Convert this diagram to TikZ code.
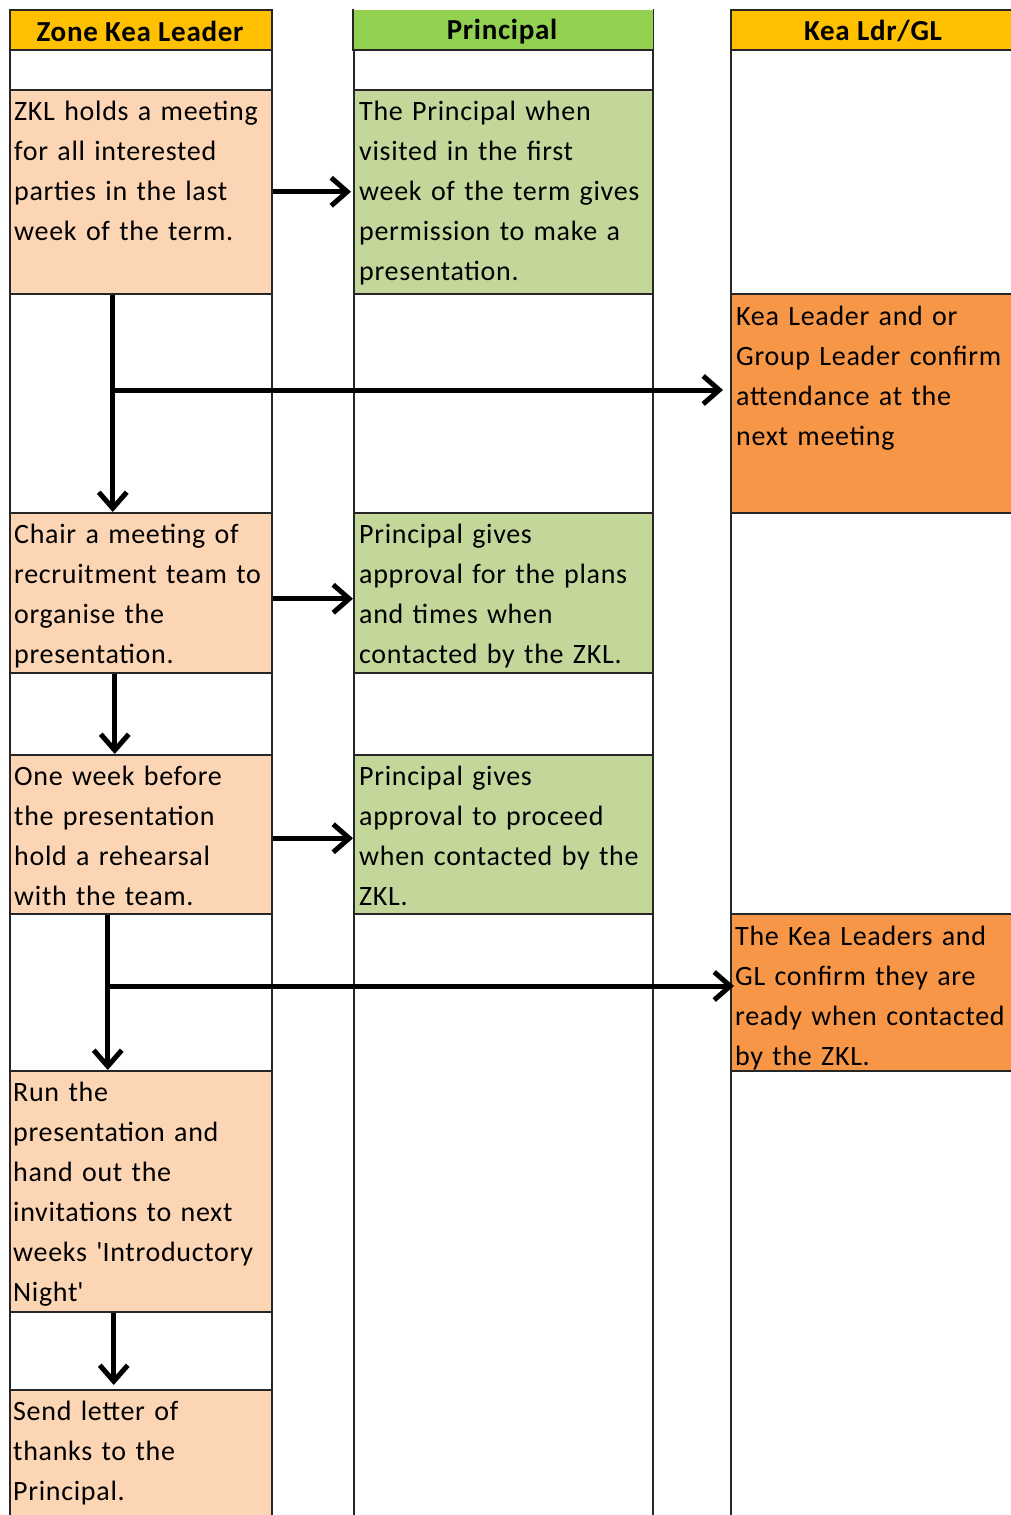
\documentclass[tikz,border=0pt]{standalone}
\usepackage{fontspec}
\setmainfont{Carlito}[LetterSpace=2.5]
\usetikzlibrary{arrows.meta}
\definecolor{hdrorange}{HTML}{FFC000}
\definecolor{hdrgreen}{HTML}{92D050}
\definecolor{peach}{HTML}{FCD5B4}
\definecolor{olive}{HTML}{C4D79B}
\definecolor{kea}{HTML}{F79646}
\begin{document}
\begin{tikzpicture}[x=1pt,y=-1pt,
  cell/.style={draw=black!85, line width=1.5pt, anchor=north west, inner sep=0pt, fill=white},
  txt/.style={anchor=north west, inner sep=0pt, align=left, text width=330pt, font=\fontsize{28}{40}\selectfont},
  hdr/.style={inner sep=0pt, font=\fontsize{29}{30}\selectfont\bfseries},
  arr/.style={line width=5pt, -{Straight Barb[length=16pt,width=28pt]}}]
\useasboundingbox (0,0) rectangle (1011,1515);
\clip (0,0) rectangle (1011,1515);
% column 1
\node[cell, fill=hdrorange, minimum width=262pt, minimum height=40pt] (h1) at (9,9) {};
\node[cell, minimum width=262pt, minimum height=40pt] (e1) at (9,49) {};
\node[cell, fill=peach, minimum width=262pt, minimum height=204pt] (z1) at (9,89) {};
\node[cell, minimum width=262pt, minimum height=219pt] (e2) at (9,293) {};
\node[cell, fill=peach, minimum width=262pt, minimum height=160pt] (z2) at (9,512) {};
\node[cell, minimum width=262pt, minimum height=82pt] (e3) at (9,672) {};
\node[cell, fill=peach, minimum width=262pt, minimum height=159pt] (z3) at (9,754) {};
\node[cell, minimum width=262pt, minimum height=157pt] (e4) at (9,913) {};
\node[cell, fill=peach, minimum width=262pt, minimum height=241pt] (z4) at (9,1070) {};
\node[cell, minimum width=262pt, minimum height=78pt] (e5) at (9,1311) {};
\node[cell, fill=peach, minimum width=262pt, minimum height=150pt] (z5) at (9,1389) {};
% column 2
\node[cell, draw=none, fill=hdrgreen, minimum width=299pt, minimum height=40pt] (h2) at (353,9) {};
\draw[draw=black!85, line width=1.5pt] (h2.north east) -- (h2.south east) -- (h2.south west) -- (h2.north west);
\node[cell, minimum width=299pt, minimum height=40pt] (f1) at (353,49) {};
\node[cell, fill=olive, minimum width=299pt, minimum height=204pt] (p1) at (353,89) {};
\node[cell, minimum width=299pt, minimum height=219pt] (f2) at (353,293) {};
\node[cell, fill=olive, minimum width=299pt, minimum height=160pt] (p2) at (353,512) {};
\node[cell, minimum width=299pt, minimum height=82pt] (f3) at (353,672) {};
\node[cell, fill=olive, minimum width=299pt, minimum height=159pt] (p3) at (353,754) {};
\node[cell, minimum width=299pt, minimum height=630pt] (f4) at (353,913) {};
% column 3
\node[cell, fill=hdrorange, minimum width=300pt, minimum height=40pt] (h3) at (730,9) {};
\node[cell, minimum width=300pt, minimum height=244pt] (g1) at (730,49) {};
\node[cell, fill=kea, minimum width=300pt, minimum height=219pt] (k1) at (730,293) {};
\node[cell, minimum width=300pt, minimum height=401pt] (g2) at (730,512) {};
\node[cell, fill=kea, minimum width=300pt, minimum height=157pt] (k2) at (730,913) {};
\node[cell, minimum width=300pt, minimum height=480pt] (g3) at (730,1070) {};
% headers
\node[hdr] (th1) at (140,31) {Zone Kea Leader};
\node[hdr] (th2) at (502,32) {Principal};
\node[hdr] (th3) at (873,31) {Kea Ldr/GL};
% texts
\node[txt] (tz1) at ([shift={(5pt,-3pt)}]z1.north west) {\strut ZKL holds a meeting\\for all interested\\parties in the last\\week of the term.};
\node[txt] (tp1) at ([shift={(6pt,-3pt)}]p1.north west) {\strut The Principal when\\visited in the first\\week of the term gives\\permission to make a\\presentation.};
\node[txt] (tk1) at ([shift={(6pt,-4pt)}]k1.north west) {\strut Kea Leader and or\\Group Leader confirm\\attendance at the\\next meeting};
\node[txt] (tz2) at ([shift={(5pt,-3pt)}]z2.north west) {\strut Chair a meeting of\\recruitment team to\\organise the\\presentation.};
\node[txt] (tp2) at ([shift={(6pt,-3pt)}]p2.north west) {\strut Principal gives\\approval for the plans\\and times when\\contacted by the ZKL.};
\node[txt] (tz3) at ([shift={(5pt,-3pt)}]z3.north west) {\strut One week before\\the presentation\\hold a rehearsal\\with the team.};
\node[txt] (tp3) at ([shift={(6pt,-3pt)}]p3.north west) {\strut Principal gives\\approval to proceed\\when contacted by the\\ZKL.};
\node[txt] (tk2) at ([shift={(5pt,-4pt)}]k2.north west) {\strut The Kea Leaders and\\GL confirm they are\\ready when contacted\\by the ZKL.};
\node[txt] (tz4) at ([shift={(4pt,-3pt)}]z4.north west) {\strut Run the\\presentation and\\hand out the\\invitations to next\\weeks \textquotesingle Introductory\\Night\textquotesingle};
\node[txt] (tz5) at ([shift={(4pt,-3pt)}]z5.north west) {\strut Send letter of\\thanks to the\\Principal.};
% connectors
\draw[arr, shorten >=2pt] (z1.east) -- (p1.west);
\draw[arr] ([xshift=-28pt]z1.south) -- ([xshift=-28pt]z2.north);
\coordinate (b1) at (112,390);
\draw[arr, shorten >=7pt] (b1) -- (b1 -| k1.west);
\draw[arr] ([yshift=-6pt]z2.east) -- ([yshift=-6pt]p2.west);
\draw[arr] ([xshift=-26pt]z2.south) -- ([xshift=-26pt]z3.north);
\draw[arr] ([yshift=-4pt]z3.east) -- ([yshift=-4pt]p3.west);
\draw[arr] ([xshift=-33pt]z3.south) -- ([xshift=-33pt]z4.north);
\coordinate (b2) at (107,986);
\draw[arr, shorten >=-4pt] (b2) -- (b2 -| k2.west);
\draw[arr, shorten >=4pt] ([xshift=-27pt]z4.south) -- ([xshift=-27pt]z5.north);
\end{tikzpicture}
\end{document}
